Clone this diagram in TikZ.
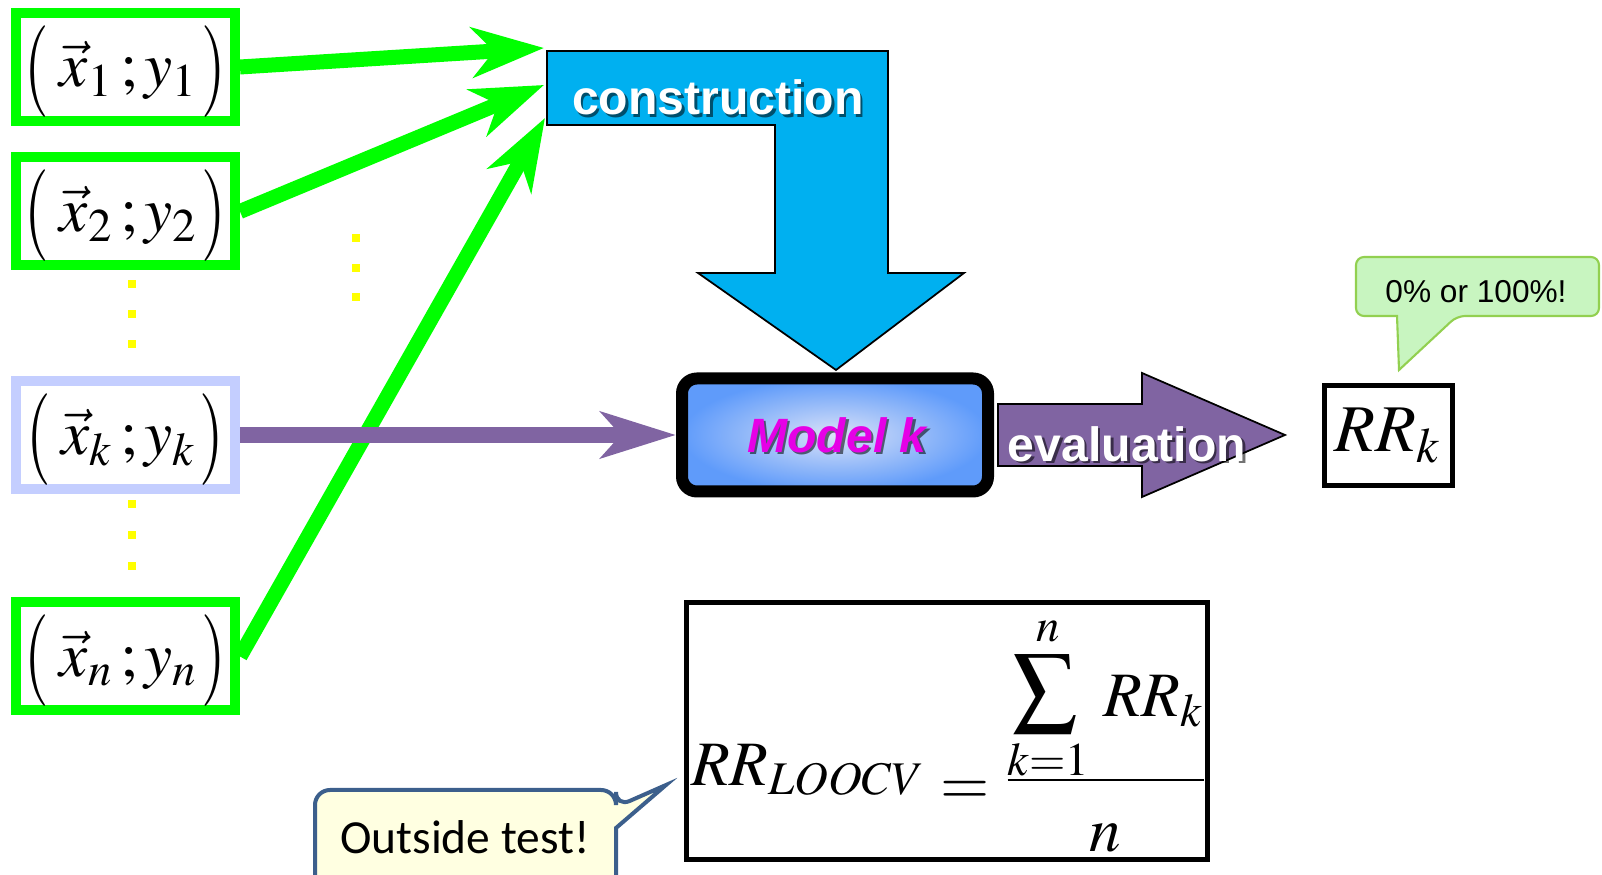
\documentclass[tikz,border=0pt]{standalone}
\usepackage{mathptmx}
\usepackage[no-math]{fontspec}
\setmainfont{Liberation Sans}
\newfontfamily\calibrifont{Carlito}
\usepackage{tikz}
\usetikzlibrary{calc,arrows.meta}
\definecolor{cvgreen}{RGB}{0,255,0}
\definecolor{cvlilac}{RGB}{196,206,255}
\definecolor{cvpurple}{RGB}{128,100,162}
\definecolor{cvblue}{RGB}{0,176,240}
\definecolor{cvmodel}{RGB}{95,155,250}
\definecolor{cvmodellight}{RGB}{218,226,248}
\definecolor{cvmagenta}{RGB}{230,0,230}
\definecolor{cvyellow}{RGB}{255,255,0}
\definecolor{cvnote}{RGB}{200,245,192}
\definecolor{cvnoteline}{RGB}{146,208,80}
\definecolor{cvpaper}{RGB}{255,255,225}
\definecolor{cvnavy}{RGB}{60,95,140}
% a pair with tall, thin brackets
\newcommand{\tallbr}[1]{\vcenter{\hbox{\scalebox{1}[1.45]{$#1$}}}}
\newcommand{\pair}[2]{\mathopen{\tallbr{(}}\mkern3mu\vec{x}_{#1}\,;y_{#2}\mkern1mu\mathclose{\tallbr{)}}}
\newcommand{\bigsum}{\mathop{\scalebox{1.45}{$\sum$}}}

\begin{document}
\begin{tikzpicture}[
  sample/.style={draw=cvgreen, line width=0.1cm, minimum width=2.19cm, minimum height=1.08cm,
    inner sep=0pt, text height=0.69cm, text depth=0.29cm, font=\fontsize{18}{22}\selectfont},
  feed/.style={cvgreen, line width=0.15cm, -{Stealth[length=0.72cm,width=0.5cm,inset=0.22cm]}},
  banner/.style={text=white, inner sep=0pt, font=\fontsize{13.7}{16}\selectfont\bfseries},
  dropshadow/.style={text=black, opacity=0.55},
  dot/.style={fill=cvyellow}
]
\useasboundingbox (0,0) rectangle (16.02,8.75);

% Samples
\node[sample] (b1) at (1.255,8.08) {$\pair{1}{1}$};
\node[sample] (b2) at (1.255,6.635) {$\pair{2}{2}$};
\node[sample, draw=cvlilac] (bk) at (1.255,4.40) {$\pair{k}{k}$};
\node[sample] (bn) at (1.255,2.185) {$\pair{n}{n}$};

% dots between the samples
\foreach \y in {5.87,5.57,5.27,3.67,3.36,3.05}
  \fill[dot] (1.28,\y) rectangle +(0.08,0.08);
\foreach \y in {6.33,6.03,5.74}
  \fill[dot] (3.52,\y) rectangle +(0.08,0.08);

% Construction arrow
\draw[fill=cvblue, line width=0.5pt] (5.47,8.24) -- (8.88,8.24) -- (8.88,6.02) -- (9.64,6.02)
  -- (8.36,5.05) -- (6.98,6.02) -- (7.75,6.02) -- (7.75,7.50) -- (5.47,7.50) -- cycle;
\node[banner, dropshadow] (conshadow) at (7.205,7.75) {construction};
\node[banner] (con) at (7.18,7.775) {construction};
\coordinate (in1) at (5.44,8.27);
\coordinate (in2) at (5.44,7.90);
\coordinate (in3) at (5.45,7.57);

\draw[feed] (b1.east) -- (in1);
\draw[feed] (b2.east) -- (in2);
\draw[feed] (bn.east) -- (in3);

% Model k
\node[draw=black, line width=0.12cm, rounded corners=0.15cm, minimum width=3.06cm,
  minimum height=1.13cm, inner color=cvmodellight, outer color=cvmodel] (model) at (8.35,4.40) {};
\node[banner, dropshadow, font=\fontsize{13.7}{16}\selectfont\bfseries\itshape] (modelshadow)
  at (8.395,4.375) {Model k};
\node[banner, text=cvmagenta, font=\fontsize{13.7}{16}\selectfont\bfseries\itshape] (modelname)
  at (8.37,4.40) {Model k};
\draw[cvpurple, line width=0.16cm, -{Stealth[length=0.75cm,width=0.46cm,inset=0.2cm]}]
  (bk.east) -- (model.west);

% Evaluation arrow
\draw[fill=cvpurple, line width=0.5pt] (9.98,4.71) -- (11.42,4.71) -- (11.42,5.02) -- (12.85,4.40)
  -- (11.42,3.78) -- (11.42,4.09) -- (9.98,4.09) -- cycle;
\node[banner, dropshadow] (evalshadow) at (11.295,4.285) {evaluation};
\node[banner] (eval) at (11.27,4.31) {evaluation};

% Result of one fold
\node[draw, line width=0.05cm, minimum width=1.28cm, minimum height=1.0cm, inner sep=0pt,
  font=\fontsize{19}{23}\selectfont] (rrk) at (13.88,4.39) {$RR_k$};

\draw[draw=cvnoteline, fill=cvnote, line width=0.6pt, rounded corners=0.08cm]
  (13.97,5.59) -- (13.56,5.59) -- (13.56,6.18) -- (15.99,6.18) -- (15.99,5.59) -- (14.57,5.59)
  [sharp corners] -- (13.99,5.05) -- cycle;
\node[font=\fontsize{9}{11}\selectfont] (pct) at (14.76,5.83) {0\% or 100\%!};

% Average over all folds
\node[draw, line width=0.05cm, minimum width=5.21cm, minimum height=2.57cm] (loocv) at (9.465,1.435) {};
\node[inner sep=0pt, anchor=base, font=\fontsize{18}{22}\selectfont] (loocvformula) at (9.495,0.79)
  {$\displaystyle \raisebox{3.1pt}{$RR_{LOOCV}$}\mathrel{\raisebox{-2.3pt}{$=$}}
   \frac{\raisebox{10.5pt}[\height][0pt]{$\displaystyle\bigsum\limits_{k=1}^{n}\,RR_k$}}
        {\raisebox{-3.4pt}{$n$}}$};

\draw[draw=cvnavy, fill=cvpaper, line width=0.04cm, rounded corners=0.15cm]
  (6.16,0.47) -- (6.16,-0.3) -- (3.15,-0.3) -- (3.15,0.85) -- (6.16,0.85) -- (6.16,0.68)
  [sharp corners] -- (6.66,0.90) -- cycle;
\node[font=\calibrifont\fontsize{13.5}{16}\selectfont] (outside) at (4.65,0.38) {Outside test!};
\end{tikzpicture}
\end{document}
